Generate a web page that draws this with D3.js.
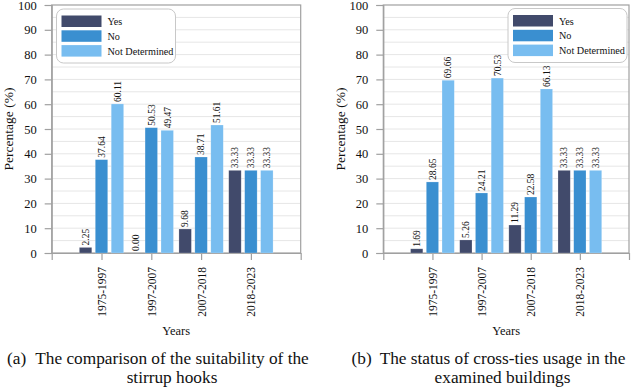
<!DOCTYPE html>
<html>
<head>
<meta charset="utf-8">
<script src="https://cdn.jsdelivr.net/npm/d3@7"></script>
<style>
  body { margin: 0; background: #fff; }
  svg, svg text { font-family: "Liberation Serif", "Times New Roman", Times, serif !important; }
</style>
</head>
<body>
<svg id="chart" width="633" height="389"></svg>
<script>
// categories and series
var years = ["1975-1997", "1997-2007", "2007-2018", "2018-2023"];
var seriesNames = ["Yes", "No", "Not Determined"];
var colors = ["#414a6b", "#3a8fd0", "#78bdf0"];

// (a) stirrup hooks
var hooksYes = [2.25, 0.00, 9.68, 33.33];
var hooksNo = [37.64, 50.53, 38.71, 33.33];
var hooksND = [60.11, 49.47, 51.61, 33.33];

// (b) cross-ties
var tiesYes = [1.69, 5.26, 11.29, 33.33];
var tiesNo = [28.65, 24.21, 22.58, 33.33];
var tiesND = [69.66, 70.53, 66.13, 33.33];

var yTicks = [0, 10, 20, 30, 40, 50, 60, 70, 80, 90, 100];

var svg = d3.select("#chart");

function drawPanel(opt, series) {
  var x = d3.scaleLinear().domain([0, years.length + 1]).range([opt.left, opt.right]);
  var y = d3.scaleLinear().domain([0, 100]).range([opt.bottom, opt.top]);
  var unit = x(1) - x(0);
  var barW = unit * 0.25, step = unit * 0.32;

  var g = svg.append("g");

  // grid every 5
  g.selectAll("line.grid")
    .data(d3.range(5, 100, 5))
    .enter().append("line")
      .attr("x1", opt.left).attr("x2", opt.right)
      .attr("y1", function(d) { return y(d); })
      .attr("y2", function(d) { return y(d); })
      .attr("stroke", "#e6e6e6").attr("stroke-width", 1);

  // frame
  g.append("rect")
    .attr("x", opt.left).attr("y", opt.top)
    .attr("width", opt.right - opt.left).attr("height", opt.bottom - opt.top)
    .attr("fill", "none").attr("stroke", "#a0a0a0").attr("stroke-width", 1.2);

  // y axis
  var yAxis = g.append("g")
    .attr("transform", "translate(" + opt.left + ",0)")
    .call(d3.axisLeft(y).tickValues(yTicks).tickSize(7).tickPadding(8));
  yAxis.attr("font-family", null);
  yAxis.select(".domain").attr("stroke", "#a0a0a0").attr("stroke-width", 1.2);
  yAxis.selectAll(".tick line").attr("stroke", "#a0a0a0").attr("stroke-width", 1.2);
  yAxis.selectAll("text").attr("font-size", 12.5).attr("fill", "#111");

  // x axis
  var xAxis = g.append("g")
    .attr("transform", "translate(0," + opt.bottom + ")")
    .call(d3.axisBottom(x).tickValues(d3.range(1, years.length + 1))
      .tickFormat(function(d) { return years[d - 1]; }).tickSize(7).tickPadding(0));
  xAxis.attr("font-family", null);
  xAxis.select(".domain").attr("stroke", "#a0a0a0").attr("stroke-width", 1.2);
  xAxis.selectAll(".tick line").attr("stroke", "#a0a0a0").attr("stroke-width", 1.2);
  xAxis.selectAll("text")
    .attr("font-size", 11.5).attr("fill", "#111")
    .attr("text-anchor", "end")
    .attr("transform", "translate(0,14) rotate(-90)")
    .attr("x", 0).attr("y", 0).attr("dy", "0.35em");

  // bars
  series.forEach(function(vals, s) {
    var off = (s - 1) * step;
    var bars = g.append("g");
    bars.selectAll("rect")
      .data(vals)
      .enter().append("rect")
        .attr("x", function(d, i) { return x(i + 1) + off - barW / 2; })
        .attr("y", function(d) { return y(d); })
        .attr("width", barW)
        .attr("height", function(d) { return y(0) - y(d); })
        .attr("fill", colors[s])
        .attr("stroke", "#ffffff").attr("stroke-opacity", 0.35).attr("stroke-width", 0.6);
    bars.selectAll("text")
      .data(vals)
      .enter().append("text")
        .attr("transform", function(d, i) {
          return "translate(" + (x(i + 1) + off) + "," + (y(d) - 2) + ") rotate(-90)";
        })
        .attr("dy", "0.35em")
        .attr("font-size", 9.5).attr("fill", "#111")
        .text(function(d) { return d.toFixed(2); });
  });

  // axis titles
  svg.append("text")
    .attr("transform", "translate(" + (opt.left - 43) + "," + ((opt.top + opt.bottom) / 2) + ") rotate(-90)")
    .attr("text-anchor", "middle").attr("dy", "0.35em")
    .attr("font-size", 13.5).attr("fill", "#111")
    .text("Percentage (%)");
  svg.append("text")
    .attr("x", (opt.left + opt.right) / 2).attr("y", 335)
    .attr("text-anchor", "middle")
    .attr("font-size", 12.5).attr("fill", "#111")
    .text("Years");

  // legend
  var lg = svg.append("g").attr("transform", "translate(" + opt.legX + "," + opt.legY + ")");
  lg.append("rect")
    .attr("width", 119).attr("height", 54).attr("rx", 7)
    .attr("fill", "#fff").attr("stroke", "#c8c8c8").attr("stroke-width", 1);
  seriesNames.forEach(function(name, s) {
    lg.append("rect")
      .attr("x", 5).attr("y", 6.5 + s * 14.8)
      .attr("width", 40).attr("height", 11.5)
      .attr("fill", colors[s]);
    lg.append("text")
      .attr("x", 51).attr("y", 12.5 + s * 14.8).attr("dy", "0.35em")
      .attr("font-size", 10.2).attr("fill", "#111")
      .text(name);
  });

  // caption
  var cap = svg.append("g").attr("font-size", 17.3).attr("fill", "#111");
  cap.append("text").attr("x", opt.capLabelX).attr("y", 364).text(opt.capLabel);
  cap.append("text").attr("x", opt.capX).attr("y", 364).attr("text-anchor", "middle").text(opt.cap1);
  cap.append("text").attr("x", opt.capX).attr("y", 383).attr("text-anchor", "middle").text(opt.cap2);
}

drawPanel({
  left: 51.7, right: 300.7, top: 5, bottom: 253,
  legX: 56.5, legY: 9,
  capLabel: "(a)", capLabelX: 7, capX: 172,
  cap1: "The comparison of the suitability of the", cap2: "stirrup hooks"
}, [hooksYes, hooksNo, hooksND]);

drawPanel({
  left: 383.3, right: 629, top: 5, bottom: 253,
  legX: 508, legY: 8.5,
  capLabel: "(b)", capLabelX: 351.5, capX: 502.5,
  cap1: "The status of cross-ties usage in the", cap2: "examined buildings"
}, [tiesYes, tiesNo, tiesND]);
</script>
</body>
</html>
